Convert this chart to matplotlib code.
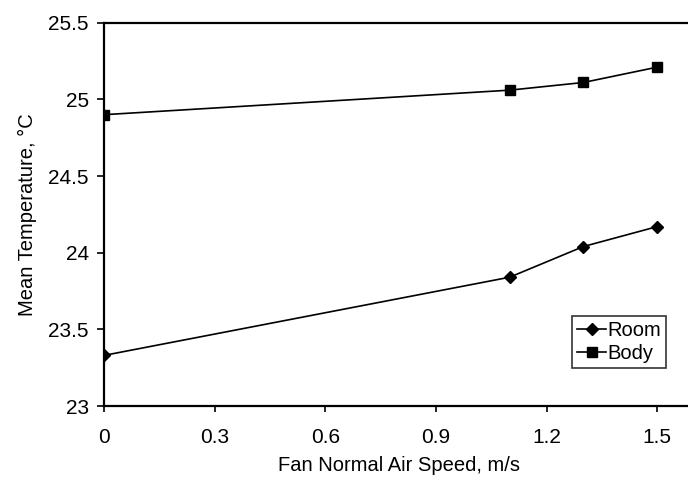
import matplotlib
matplotlib.use("Agg")
import matplotlib.pyplot as plt

# Mean temperature versus fan normal air speed
air_speed = [0.0, 1.1, 1.3, 1.5]
room_temp = [23.33, 23.84, 24.04, 24.17]
body_temp = [24.90, 25.06, 25.11, 25.21]

x_ticks = [0, 0.3, 0.6, 0.9, 1.2, 1.5]
x_tick_labels = ["0", "0.3", "0.6", "0.9", "1.2", "1.5"]
y_ticks = [23, 23.5, 24, 24.5, 25, 25.5]
y_tick_labels = ["23", "23.5", "24", "24.5", "25", "25.5"]

plt.rcParams["font.family"] = ["Liberation Sans", "DejaVu Sans"]

fig = plt.figure(figsize=(6.88, 4.8), dpi=100)
ax = fig.add_axes([104 / 688, 74 / 480, 590 / 688, 383.3 / 480])

ax.plot(air_speed, room_temp, color="black", lw=1.2, marker="D",
        markersize=6.5, label="Room")
ax.plot(air_speed, body_temp, color="black", lw=1.2, marker="s",
        markersize=6.5, label="Body")

ax.set_xlim(0, 1.6)
ax.set_ylim(23, 25.5)
ax.set_xticks(x_ticks)
ax.set_xticklabels(x_tick_labels)
ax.set_yticks(y_ticks)
ax.set_yticklabels(y_tick_labels)
ax.tick_params(direction="out", width=1.2, labelsize=15, colors="black")
ax.tick_params(axis="x", length=4.5, pad=11)
ax.tick_params(axis="y", length=5, pad=6)
for side in ["left", "bottom", "top", "right"]:
    ax.spines[side].set_linewidth(1.6)
    ax.spines[side].set_color("black")

ax.set_xlabel("Fan Normal Air Speed, m/s", fontsize=14.5, labelpad=7)
ax.set_ylabel("Mean Temperature, \u00b0C", fontsize=14.5, labelpad=8)

leg = ax.legend(loc="upper left", bbox_to_anchor=(468 / 590, (406 - 316) / 383.3),
                frameon=True, fancybox=False, fontsize=14.5,
                handlelength=1.45, handletextpad=0.05, borderpad=0.25,
                labelspacing=0.2, borderaxespad=0)
leg.get_frame().set_edgecolor("black")
leg.get_frame().set_linewidth(1.2)

fig.savefig("out.png", dpi=100, facecolor="white")
